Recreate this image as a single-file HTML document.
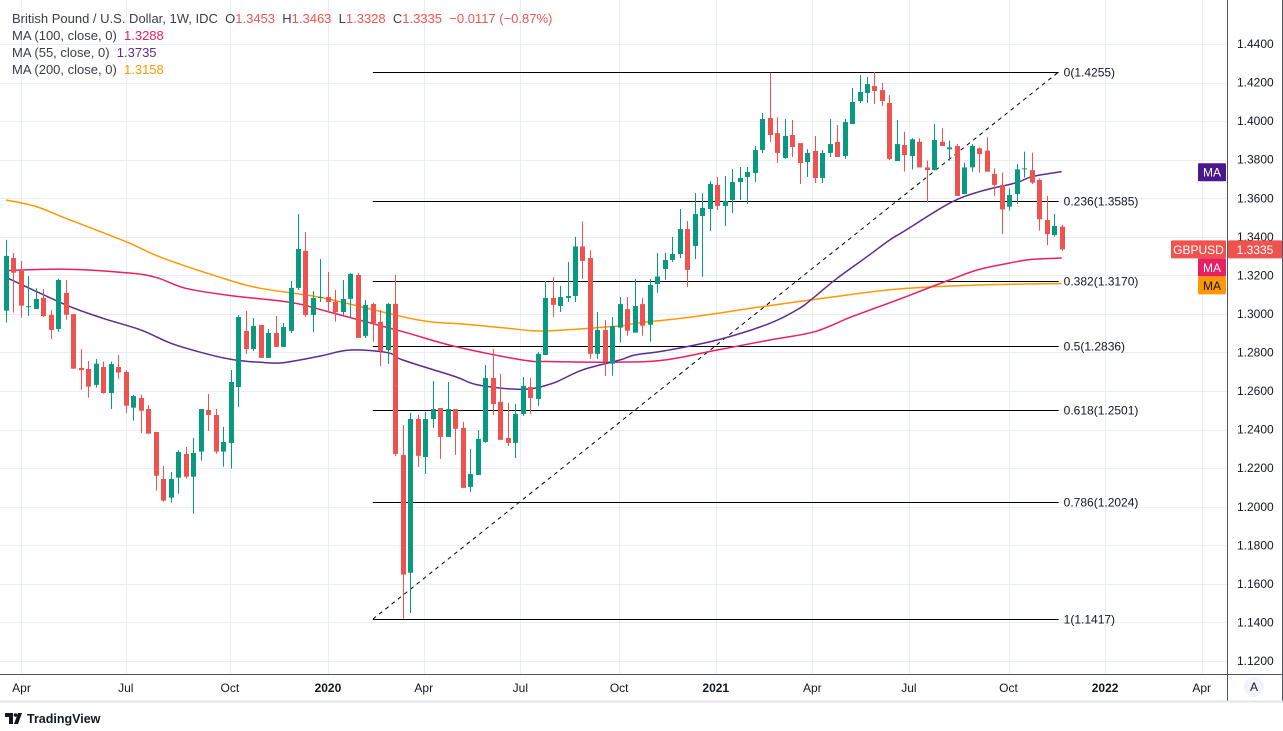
<!DOCTYPE html>
<html><head><meta charset="utf-8"><style>
body{margin:0;background:#fff;}
#wrap{position:relative;width:1283px;height:731px;overflow:hidden;font-family:"Liberation Sans",sans-serif;}
svg text{font-family:"Liberation Sans",sans-serif;}
.hdr{position:absolute;left:12px;font-size:13px;color:#3a3d45;white-space:nowrap;}
</style></head><body>
<div id="wrap">
<svg id="chart" width="1283" height="731"></svg>
<div class="hdr" style="top:11px">British Pound / U.S. Dollar, 1W, IDC&nbsp;&nbsp;O<span style="color:#ef5350">1.3453</span>&nbsp;&nbsp;H<span style="color:#ef5350">1.3463</span>&nbsp;&nbsp;L<span style="color:#ef5350">1.3328</span>&nbsp;&nbsp;C<span style="color:#ef5350">1.3335</span>&nbsp;&nbsp;<span style="color:#ef5350">−0.0117 (−0.87%)</span></div>
<div class="hdr" style="top:28px">MA (100, close, 0)&nbsp;&nbsp;<span style="color:#e91e63">1.3288</span></div>
<div class="hdr" style="top:45px">MA (55, close, 0)&nbsp;&nbsp;<span style="color:#5b2c91">1.3735</span></div>
<div class="hdr" style="top:62px">MA (200, close, 0)&nbsp;&nbsp;<span style="color:#ff9800">1.3158</span></div>
</div>
<script>
const opens=[1.3017,1.3290,1.3223,1.3038,1.3026,1.3083,1.2995,1.2922,1.3109,1.2999,1.2720,1.2715,1.2632,1.2725,1.2590,1.2725,1.2699,1.2514,1.2564,1.2507,1.2388,1.2144,1.2047,1.2151,1.2274,1.2156,1.2286,1.2502,1.2476,1.2286,1.2331,1.2621,1.2912,1.2818,1.2943,1.2772,1.2901,1.2829,1.2912,1.3135,1.3327,1.2995,1.3083,1.3088,1.3064,1.3010,1.3078,1.3202,1.2886,1.3052,1.2959,1.2813,1.3052,1.2269,1.1658,1.2455,1.2258,1.2455,1.2512,1.2362,1.2507,1.2409,1.2103,1.2165,1.2336,1.2668,1.2544,1.2357,1.2331,1.2481,1.2621,1.2559,1.2787,1.3083,1.3041,1.3083,1.3093,1.3350,1.3290,1.2793,1.2917,1.2742,1.2929,1.3025,1.2903,1.3051,1.2944,1.3155,1.3233,1.3280,1.3311,1.3440,1.3352,1.3508,1.3544,1.3669,1.3560,1.3591,1.3684,1.3710,1.3731,1.3850,1.4016,1.3938,1.3809,1.3928,1.3886,1.3788,1.3845,1.3705,1.3835,1.3892,1.3819,1.3985,1.4104,1.4146,1.4182,1.4161,1.4094,1.3793,1.3876,1.3819,1.3893,1.3760,1.3746,1.3893,1.3854,1.3871,1.3622,1.3760,1.3859,1.3847,1.3726,1.3669,1.3556,1.3622,1.3750,1.3746,1.3695,1.3487,1.3409,1.3453];
const highs=[1.3384,1.3316,1.3275,1.3197,1.3133,1.3128,1.3021,1.3183,1.3176,1.2999,1.2818,1.2756,1.2766,1.2753,1.2753,1.2787,1.2708,1.2580,1.2581,1.2528,1.2388,1.2211,1.2180,1.2294,1.2310,1.2357,1.2507,1.2585,1.2507,1.2414,1.2709,1.2995,1.3015,1.2979,1.2943,1.2922,1.2989,1.2953,1.3171,1.3518,1.3425,1.3119,1.3285,1.3218,1.3125,1.3176,1.3213,1.3213,1.3073,1.3059,1.3021,1.3057,1.3202,1.2424,1.2487,1.2476,1.2492,1.2652,1.2512,1.2647,1.2507,1.2440,1.2300,1.2398,1.2735,1.2818,1.2689,1.2538,1.2533,1.2673,1.2668,1.2803,1.3171,1.3192,1.3145,1.3270,1.3400,1.3480,1.3330,1.3010,1.2969,1.2984,1.3088,1.3088,1.3181,1.3082,1.3181,1.3316,1.3316,1.3399,1.3544,1.3482,1.3627,1.3627,1.3689,1.3710,1.3715,1.3752,1.3762,1.3762,1.3871,1.4042,1.4250,1.4021,1.4011,1.4006,1.3886,1.3855,1.3923,1.3850,1.4011,1.3980,1.4011,1.4172,1.4239,1.4229,1.4255,1.4198,1.4135,1.4006,1.3945,1.3911,1.3911,1.3795,1.3985,1.3963,1.3899,1.3881,1.3784,1.3881,1.3864,1.3916,1.3755,1.3733,1.3651,1.3778,1.3842,1.3836,1.3703,1.3612,1.3518,1.3463];
const lows=[1.2955,1.3007,1.2981,1.2989,1.3026,1.2984,1.2870,1.2907,1.2970,1.2716,1.2606,1.2566,1.2618,1.2587,1.2507,1.2663,1.2488,1.2447,1.2383,1.2379,1.2083,1.2026,1.2021,1.2068,1.2146,1.1964,1.2239,1.2393,1.2275,1.2208,1.2198,1.2517,1.2792,1.2808,1.2772,1.2772,1.2829,1.2829,1.2901,1.3124,1.2984,1.2906,1.3062,1.3010,1.2960,1.2995,1.2981,1.2876,1.2876,1.2855,1.2730,1.2741,1.2264,1.1418,1.1449,1.2206,1.2170,1.2409,1.2248,1.2362,1.2269,1.2098,1.2077,1.2165,1.2331,1.2476,1.2347,1.2315,1.2253,1.2471,1.2481,1.2523,1.2787,1.2985,1.3010,1.3062,1.3062,1.3182,1.2767,1.2767,1.2678,1.2680,1.2851,1.2887,1.2903,1.2887,1.2856,1.3110,1.3178,1.3269,1.3290,1.3140,1.3285,1.3193,1.3430,1.3539,1.3456,1.3523,1.3591,1.3570,1.3684,1.3835,1.3892,1.3783,1.3804,1.3814,1.3674,1.3710,1.3679,1.3679,1.3814,1.3814,1.3804,1.3985,1.4094,1.4094,1.4089,1.4078,1.3798,1.3793,1.3738,1.3750,1.3760,1.3577,1.3746,1.3871,1.3795,1.3612,1.3622,1.3738,1.3733,1.3738,1.3612,1.3414,1.3536,1.3570,1.3708,1.3674,1.3432,1.3357,1.3401,1.3328];
const closes=[1.3301,1.3214,1.3043,1.3040,1.3078,1.2989,1.2917,1.3176,1.2996,1.2716,1.2709,1.2623,1.2742,1.2590,1.2740,1.2696,1.2524,1.2574,1.2498,1.2379,1.2161,1.2032,1.2144,1.2284,1.2156,1.2279,1.2507,1.2476,1.2286,1.2336,1.2647,1.2984,1.2818,1.2938,1.2772,1.2901,1.2829,1.2932,1.3135,1.3337,1.2995,1.3083,1.3088,1.3062,1.3009,1.3078,1.3208,1.2876,1.3047,1.2953,1.2808,1.3052,1.2274,1.1648,1.2455,1.2264,1.2455,1.2507,1.2362,1.2507,1.2404,1.2098,1.2170,1.2352,1.2668,1.2533,1.2347,1.2331,1.2481,1.2627,1.2564,1.2793,1.3083,1.3047,1.3088,1.3093,1.3350,1.3275,1.2793,1.2917,1.2752,1.2937,1.3051,1.2913,1.3041,1.2939,1.3150,1.3194,1.3280,1.3311,1.3440,1.3228,1.3518,1.3550,1.3674,1.3560,1.3586,1.3684,1.3705,1.3736,1.3850,1.4011,1.3928,1.3835,1.3923,1.3866,1.3783,1.3835,1.3705,1.3835,1.3881,1.3814,1.3995,1.4099,1.4151,1.4192,1.4156,1.4104,1.3804,1.3881,1.3824,1.3906,1.3760,1.3746,1.3902,1.3871,1.3864,1.3612,1.3760,1.3871,1.3829,1.3738,1.3669,1.3542,1.3617,1.3750,1.3755,1.3681,1.3491,1.3414,1.3456,1.3335];
const ma55Idx=[0,8,13,18,22,26,30,34,37,42,46,51,53,60,63,69,73,77,82,84,88,95,102,106,108,111,115,118,120,126,130,135,137,141];
const ma55=[1.3190,1.3047,1.2977,1.2917,1.2848,1.2801,1.2765,1.2749,1.2747,1.2782,1.2813,1.2799,1.2761,1.2675,1.2632,1.2609,1.2640,1.2710,1.2761,1.2787,1.2809,1.2865,1.2951,1.3029,1.3089,1.3185,1.3297,1.3383,1.3430,1.3574,1.3634,1.3681,1.3712,1.3738];
const ma100Idx=[0,8,16,20,24,30,38,43,53,60,69,73,82,88,95,102,108,113,119,126,130,135,137,141];
const ma100=[1.3225,1.3232,1.3214,1.3190,1.3133,1.3095,1.3060,1.3012,1.2908,1.2831,1.2761,1.2753,1.2750,1.2761,1.2813,1.2865,1.2908,1.2986,1.3072,1.3176,1.3231,1.3271,1.3283,1.3290];
const ma200Idx=[0,4,8,16,21,30,34,39,43,55,61,67,72,82,84,92,101,110,119,130,141];
const ma200=[1.3591,1.3557,1.3496,1.3375,1.3289,1.3173,1.3133,1.3104,1.3078,1.2969,1.2948,1.2926,1.2912,1.2938,1.2951,1.2986,1.3038,1.3086,1.3129,1.3150,1.3158];
const priceTicks=[1.44,1.42,1.40,1.38,1.36,1.34,1.32,1.30,1.28,1.26,1.24,1.22,1.20,1.18,1.16,1.14,1.12];
const timeTickLabels=["Apr","Jul","Oct","2020","Apr","Jul","Oct","2021","Apr","Jul","Oct","2022","Apr"];
const timeTickIdx=[2.07,16.0,29.9,43.0,55.8,68.7,81.9,94.8,107.7,120.6,133.9,146.8,159.7];
const fibHigh=1.4255, fibLow=1.1417;
const fibLevels=[0,0.236,0.382,0.5,0.618,0.786,1];
const fibLabels=["0(1.4255)","0.236(1.3585)","0.382(1.3170)","0.5(1.2836)","0.618(1.2501)","0.786(1.2024)","1(1.1417)"];
const fibStartIdx=49, fibEndIdx=140.6;

const NS="http://www.w3.org/2000/svg";
const svg=document.getElementById('chart');
const PW=1227, PH=674;
function y(p){return 44+(1.44-p)/0.02*38.5625;}
function x(i){return 6+i*7.487;}
function el(t,a,parent){const e=document.createElementNS(NS,t);for(const k in a)e.setAttribute(k,a[k]);(parent||svg).appendChild(e);return e;}

const grid=el('g',{});


priceTicks.forEach(p=>{const l=el('line',{x1:0,x2:PW,y1:Math.round(y(p))+0.5,y2:Math.round(y(p))+0.5,stroke:'#e8eef4','stroke-width':1},grid);

});
timeTickIdx.forEach(i=>{const l=el('line',{x1:Math.round(x(i))+0.5,x2:Math.round(x(i))+0.5,y1:0,y2:PH,stroke:'#e8eef4','stroke-width':1},grid);

});

const fg=el('g',{});


fibLevels.forEach((lv,k)=>{const p=fibHigh-lv*(fibHigh-fibLow);const yy=Math.round(y(p))+0.5;
const l=el('line',{x1:x(fibStartIdx),x2:x(fibEndIdx),y1:yy,y2:yy,stroke:'#000','stroke-width':1},fg);


const t=el('text',{x:x(fibEndIdx)+5,y:yy+4,'font-size':12,fill:'#131722'},fg);t.textContent=fibLabels[k];

});
const dg=el('line',{x1:x(fibStartIdx),y1:y(fibLow),x2:x(fibEndIdx),y2:y(fibHigh),stroke:'#000','stroke-width':1,'stroke-dasharray':'4,4'},fg);



function maLine(idx,vals,color,name){
const pts=vals.map((v,k)=>[x(idx[k]),y(v)]);
let d='M'+pts[0][0].toFixed(1)+','+pts[0][1].toFixed(1);
for(let k=0;k<pts.length-1;k++){const p0=pts[Math.max(0,k-1)],p1=pts[k],p2=pts[k+1],p3=pts[Math.min(pts.length-1,k+2)];
const c1=[p1[0]+(p2[0]-p0[0])/6,p1[1]+(p2[1]-p0[1])/6],c2=[p2[0]-(p3[0]-p1[0])/6,p2[1]-(p3[1]-p1[1])/6];
d+='C'+c1.map(v=>v.toFixed(1)).join(',')+' '+c2.map(v=>v.toFixed(1)).join(',')+' '+p2.map(v=>v.toFixed(1)).join(',');}
const pth=el('path',{d:d,fill:'none',stroke:color,'stroke-width':1.5,'stroke-linejoin':'round'});

}
maLine(ma200Idx,ma200,'#ff9800','ma200-line');
maLine(ma100Idx,ma100,'#e91e63','ma100-line');
maLine(ma55Idx,ma55,'#5b2c91','ma55-line');

const cg=el('g',{});


opens.forEach((o,i)=>{const c=closes[i];const up=c>=o;const col=up?'#089981':'#ef5350';const cx=Math.round(x(i));
const g=el('g',{},cg);


el('line',{x1:cx+0.5,x2:cx+0.5,y1:y(highs[i]),y2:y(lows[i]),stroke:col,'stroke-width':1},g);
const t=Math.min(y(o),y(c)),b=Math.max(y(o),y(c));
el('rect',{x:cx-2,y:t,width:5,height:Math.max(1,b-t),fill:col},g);});

const ax=el('g',{});


el('rect',{x:PW,y:0,width:1283-PW,height:701,fill:'#fff'},ax);
el('rect',{x:0,y:PH,width:1283,height:27,fill:'#fff'},ax);
el('line',{x1:PW+0.5,x2:PW+0.5,y1:0,y2:701,stroke:'#50535e','stroke-width':1},ax);
el('line',{x1:1282.5,x2:1282.5,y1:0,y2:701,stroke:'#50535e','stroke-width':1},ax);
el('line',{x1:0,x2:1283,y1:PH+0.5,y2:PH+0.5,stroke:'#50535e','stroke-width':1},ax);
el('line',{x1:0,x2:1283,y1:701.5,y2:701.5,stroke:'#e0e3eb','stroke-width':2},ax);
priceTicks.forEach(p=>{const t=el('text',{x:1237,y:y(p)+4,'font-size':12,fill:'#131722'},ax);t.textContent=p.toFixed(4);

});
timeTickIdx.forEach((i,k)=>{const lab=timeTickLabels[k];const t=el('text',{x:x(i),y:692,'font-size':12,fill:'#131722','text-anchor':'middle','font-weight':/^\d/.test(lab)?'bold':'normal'},ax);t.textContent=lab;

});
el('circle',{cx:1254,cy:687,r:10,fill:'#f0f3fa'},ax);
const at=el('text',{x:1254,y:691,'font-size':12,fill:'#131722','text-anchor':'middle'},ax);at.textContent='A';



function tag(x0,w,yc,bg,fg2,txt,name){const g=el('g',{});


el('rect',{x:x0,y:yc-9,width:w,height:18,fill:bg,rx:1},g);
const t=el('text',{x:x0+w/2,y:yc+4.5,'font-size':12,fill:fg2,'text-anchor':'middle'},g);t.textContent=txt;}
tag(1198,28,y(1.3735),'#4a1a8c','#fff','MA','ma55-tag');
tag(1171,55,y(1.3335),'#ef5350','#fff','GBPUSD','symbol-tag');
tag(1228,54,y(1.3335),'#ef5350','#fff','1.3335','last-price-tag');
tag(1198,28,y(1.3335)+18,'#e91e63','#fff','MA','ma100-tag');
tag(1198,28,y(1.3335)+36,'#ff9800','#131722','MA','ma200-tag');

const lg=el('g',{});


el('path',{d:'M5 713h8v11h-4v-7h-4z M14 724l4-11h4l-4 11z',fill:'#131722'},lg);
el('circle',{cx:15.5,cy:715,r:1.8,fill:'#131722'},lg);
const lt=el('text',{x:27,y:723,'font-size':12.5,fill:'#131722','font-weight':'bold'},lg);lt.textContent='TradingView';
</script>
</body></html>
